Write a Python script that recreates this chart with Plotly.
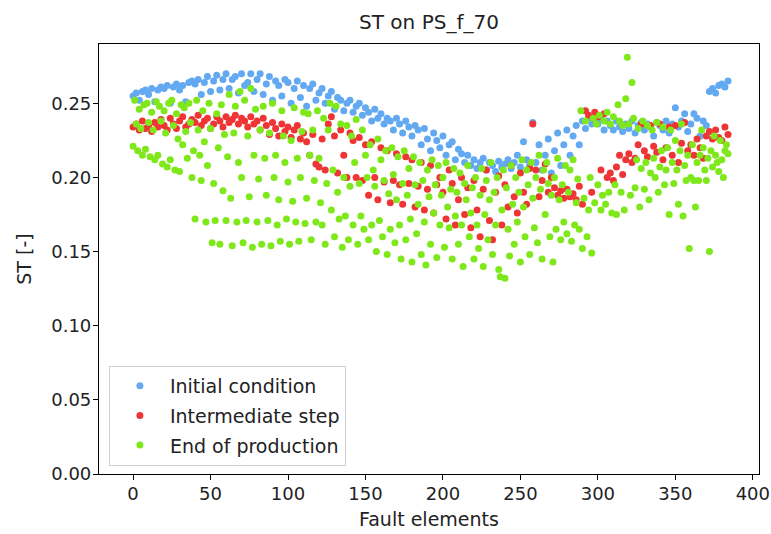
import plotly.graph_objects as go

# ---- data ----
x_ticks = [0, 50, 100, 150, 200, 250, 300, 350, 400]
y_ticks = [0.00, 0.05, 0.10, 0.15, 0.20, 0.25]

# Initial condition: every 2nd fault element (0, 2, 4, ... 384)
st_initial = [
    0.255, 0.257, 0.252, 0.258, 0.259, 0.256, 0.260, 0.251, 0.259, 0.261,
    0.260, 0.262, 0.250, 0.261, 0.263, 0.259, 0.262, 0.251, 0.264, 0.265,
    0.263, 0.266, 0.256, 0.264, 0.268, 0.258, 0.265, 0.269, 0.259, 0.266,
    0.270, 0.260, 0.266, 0.268, 0.257, 0.270, 0.262, 0.264, 0.270, 0.258,
    0.266, 0.270, 0.256, 0.263, 0.268, 0.252, 0.265, 0.262, 0.255, 0.266,
    0.264, 0.250, 0.260, 0.265, 0.254, 0.262, 0.248, 0.260, 0.263, 0.252,
    0.257, 0.260, 0.250, 0.255, 0.258, 0.246, 0.254, 0.252, 0.245, 0.250,
    0.252, 0.244, 0.248, 0.250, 0.242, 0.247, 0.244, 0.238, 0.246, 0.240,
    0.243, 0.236, 0.240, 0.238, 0.232, 0.240, 0.236, 0.230, 0.238, 0.234,
    0.228, 0.235, 0.232, 0.222, 0.233, 0.226, 0.218, 0.230, 0.225, 0.220,
    0.228, 0.215, 0.222, 0.224, 0.212, 0.219, 0.216, 0.210, 0.215, 0.208,
    0.212, 0.206, 0.210, 0.213, 0.205, 0.210, 0.208, 0.204, 0.211, 0.207,
    0.209, 0.212, 0.206, 0.210, 0.215, 0.207, 0.224, 0.212, 0.208, 0.237,
    0.210, 0.222, 0.205, 0.215, 0.226, 0.203, 0.218, 0.230, 0.208, 0.222,
    0.232, 0.215, 0.228, 0.235, 0.222, 0.238, 0.233, 0.240, 0.236, 0.239,
    0.236, 0.240, 0.232, 0.238, 0.235, 0.232, 0.238, 0.234, 0.231, 0.236,
    0.233, 0.238, 0.230, 0.235, 0.237, 0.232, 0.236, 0.234, 0.228, 0.237,
    0.235, 0.232, 0.238, 0.230, 0.236, 0.247, 0.234, 0.238, 0.243, 0.231,
    0.236, 0.243, 0.240, 0.228, 0.238, 0.235, 0.258, 0.260, 0.257, 0.262,
    0.263, 0.261, 0.265,
]

# Intermediate step: every 2nd fault element (0, 2, 4, ... 384)
st_intermediate = [
    0.234, 0.236, 0.232, 0.238, 0.233, 0.235, 0.231, 0.237, 0.234, 0.239,
    0.235, 0.232, 0.240, 0.236, 0.233, 0.238, 0.241, 0.234, 0.236, 0.239,
    0.237, 0.242, 0.235, 0.238, 0.240, 0.233, 0.236, 0.241, 0.238, 0.234,
    0.241, 0.237, 0.239, 0.242, 0.236, 0.240, 0.238, 0.234, 0.241, 0.236,
    0.238, 0.232, 0.240, 0.235, 0.229, 0.237, 0.233, 0.228, 0.236, 0.231,
    0.234, 0.227, 0.232, 0.235, 0.226, 0.230, 0.224, 0.215, 0.229, 0.209,
    0.207, 0.226, 0.205, 0.236, 0.241, 0.228, 0.203, 0.232, 0.215, 0.200,
    0.230, 0.225, 0.200, 0.227, 0.198, 0.222, 0.188, 0.224, 0.200, 0.185,
    0.220, 0.197, 0.218, 0.183, 0.198, 0.216, 0.195, 0.182, 0.214, 0.196,
    0.212, 0.180, 0.194, 0.210, 0.178, 0.192, 0.208, 0.176, 0.195, 0.200,
    0.190, 0.172, 0.205, 0.196, 0.168, 0.185, 0.200, 0.175, 0.193, 0.166,
    0.198, 0.178, 0.160, 0.192, 0.205, 0.171, 0.158, 0.190, 0.201, 0.168,
    0.195, 0.180, 0.208, 0.187, 0.176, 0.203, 0.190, 0.182, 0.206, 0.236,
    0.205, 0.187, 0.198, 0.209, 0.190, 0.200, 0.193, 0.188, 0.191, 0.186,
    0.192, 0.187, 0.189, 0.185, 0.194, 0.182, 0.245, 0.242, 0.190, 0.244,
    0.241, 0.205, 0.243, 0.200, 0.203, 0.198, 0.207, 0.215, 0.202, 0.212,
    0.216, 0.210, 0.213, 0.222, 0.236, 0.218, 0.214, 0.235, 0.221, 0.217,
    0.236, 0.212, 0.220, 0.234, 0.215, 0.235, 0.210, 0.223, 0.237, 0.218,
    0.222, 0.215, 0.226, 0.220, 0.213, 0.228, 0.231, 0.226, 0.232, 0.227,
    0.225, 0.234, 0.229,
]

# End of production: every fault element (0, 1, 2, ... 384)
st_end = [
    0.221, 0.252, 0.236, 0.218, 0.246, 0.233, 0.215, 0.249,
    0.219, 0.250, 0.237, 0.214, 0.244, 0.232, 0.212, 0.251,
    0.215, 0.248, 0.238, 0.209, 0.245, 0.230, 0.207, 0.250,
    0.212, 0.252, 0.235, 0.205, 0.243, 0.226, 0.204, 0.249,
    0.222, 0.247, 0.231, 0.213, 0.250, 0.237, 0.200, 0.218,
    0.172, 0.252, 0.232, 0.215, 0.198, 0.245, 0.224, 0.170,
    0.208, 0.250, 0.233, 0.156, 0.196, 0.171, 0.243, 0.220,
    0.155, 0.249, 0.191, 0.229, 0.171, 0.214, 0.256, 0.186,
    0.154, 0.230, 0.248, 0.170, 0.210, 0.258, 0.200, 0.156,
    0.252, 0.171, 0.228, 0.187, 0.260, 0.153, 0.215, 0.246,
    0.170, 0.199, 0.232, 0.155, 0.248, 0.213, 0.188, 0.171,
    0.230, 0.154, 0.250, 0.200, 0.215, 0.168, 0.185, 0.157,
    0.245, 0.228, 0.210, 0.172, 0.197, 0.155, 0.225, 0.184,
    0.247, 0.170, 0.213, 0.157, 0.200, 0.231, 0.244, 0.169,
    0.186, 0.243, 0.215, 0.158, 0.232, 0.198, 0.170, 0.245,
    0.213, 0.183, 0.168, 0.240, 0.155, 0.196, 0.232, 0.250,
    0.178, 0.205, 0.160, 0.248, 0.190, 0.172, 0.236, 0.153,
    0.200, 0.174, 0.235, 0.158, 0.194, 0.228, 0.168, 0.210,
    0.239, 0.155, 0.196, 0.174, 0.232, 0.165, 0.215, 0.200,
    0.158, 0.222, 0.168, 0.205, 0.194, 0.150, 0.226, 0.171,
    0.212, 0.160, 0.198, 0.218, 0.148, 0.189, 0.165, 0.220,
    0.202, 0.156, 0.185, 0.214, 0.168, 0.145, 0.196, 0.218,
    0.158, 0.188, 0.206, 0.172, 0.143, 0.214, 0.195, 0.162,
    0.182, 0.210, 0.148, 0.198, 0.170, 0.141, 0.205, 0.187,
    0.155, 0.212, 0.176, 0.195, 0.146, 0.208, 0.168, 0.188,
    0.200, 0.153, 0.210, 0.180, 0.166, 0.192, 0.145, 0.206,
    0.174, 0.190, 0.155, 0.203, 0.168, 0.140, 0.196, 0.185,
    0.208, 0.160, 0.176, 0.193, 0.145, 0.200, 0.168, 0.152,
    0.188, 0.206, 0.140, 0.175, 0.198, 0.158, 0.185, 0.210,
    0.148, 0.190, 0.168, 0.200, 0.138, 0.133, 0.178, 0.205,
    0.132, 0.193, 0.165, 0.147, 0.208, 0.182, 0.155, 0.200,
    0.170, 0.190, 0.143, 0.212, 0.180, 0.160, 0.205, 0.195,
    0.148, 0.210, 0.186, 0.166, 0.200, 0.156, 0.215, 0.192,
    0.145, 0.205, 0.175, 0.210, 0.196, 0.160, 0.188, 0.143,
    0.200, 0.165, 0.213, 0.185, 0.158, 0.195, 0.170, 0.208,
    0.162, 0.190, 0.205, 0.157, 0.212, 0.168, 0.183, 0.199,
    0.165, 0.245, 0.152, 0.186, 0.238, 0.160, 0.178, 0.200,
    0.149, 0.240, 0.183, 0.236, 0.195, 0.242, 0.178, 0.188,
    0.238, 0.182, 0.244, 0.190, 0.236, 0.176, 0.241, 0.195,
    0.175, 0.249, 0.238, 0.190, 0.235, 0.178, 0.253, 0.281,
    0.236, 0.188, 0.264, 0.240, 0.193, 0.212, 0.233, 0.180,
    0.206, 0.238, 0.192, 0.210, 0.235, 0.185, 0.203, 0.232,
    0.213, 0.200, 0.237, 0.190, 0.207, 0.218, 0.234, 0.195,
    0.205, 0.220, 0.175, 0.232, 0.210, 0.196, 0.225, 0.205,
    0.182, 0.218, 0.236, 0.174, 0.208, 0.198, 0.215, 0.152,
    0.200, 0.222, 0.198, 0.180, 0.210, 0.198, 0.215, 0.232,
    0.220, 0.205, 0.198, 0.213, 0.150, 0.218, 0.207, 0.228,
    0.215, 0.210, 0.204, 0.225, 0.212, 0.200, 0.218, 0.222,
    0.216,
]

series_names = ["Initial condition", "Intermediate step", "End of production"]
series_colors = ["#63A9F2", "#EE3434", "#7FE81A"]

# element indices
elem_initial = list(range(0, 2 * len(st_initial), 2))
elem_intermediate = list(range(0, 2 * len(st_intermediate), 2))
elem_end = list(range(0, len(st_end)))

FONT = "DejaVu Sans"
TXT = "#222222"

fig = go.Figure()
for i, (xs, ys) in enumerate([(elem_initial, st_initial),
                              (elem_intermediate, st_intermediate),
                              (elem_end, st_end)]):
    fig.add_trace(go.Scatter(
        x=xs, y=ys, mode="markers", name=series_names[i],
        legendgroup=f"g{i}",
        marker=dict(size=7, color=series_colors[i], line=dict(width=0)),
    ))

axis_common = dict(
    showline=True, linecolor="black", linewidth=1.2, mirror=True,
    ticks="outside", ticklen=5, tickwidth=1.2, tickcolor="black",
    showgrid=False, zeroline=False, ticklabelstandoff=-2, automargin=False,
    tickfont=dict(family=FONT, size=18, color=TXT),
)

fig.update_layout(
    width=771, height=534,
    margin=dict(l=99, r=12, t=44, b=60),
    paper_bgcolor="white", plot_bgcolor="white",
    font=dict(family=FONT, size=19, color=TXT),
    title=dict(text="ST on PS_f_70", x=(99 + 330) / 771, xanchor="center",
               y=1 - 22 / 534, yanchor="middle",
               font=dict(family=FONT, size=20, color=TXT)),
    xaxis=dict(range=[-22, 404], tickvals=x_ticks,
               title=dict(text="Fault elements", standoff=9,
                          font=dict(family=FONT, size=19, color=TXT)),
               **axis_common),
    yaxis=dict(range=[0, 0.29], tickvals=y_ticks, tickformat=".2f",
               title=dict(text="ST [-]", standoff=14,
                          font=dict(family=FONT, size=19, color=TXT)),
               **axis_common),
    showlegend=True,
    legend=dict(x=0.015, y=0.019, xanchor="left", yanchor="bottom",
                bgcolor="rgba(255,255,255,0.85)", bordercolor="#d0d0d0",
                borderwidth=1, itemwidth=50, tracegroupgap=2,
                font=dict(family=FONT, size=19, color=TXT)),
)

fig.write_html("out.html", config={"displayModeBar": False},
               post_script="document.body.style.margin='0px';document.body.style.overflow='hidden';")
